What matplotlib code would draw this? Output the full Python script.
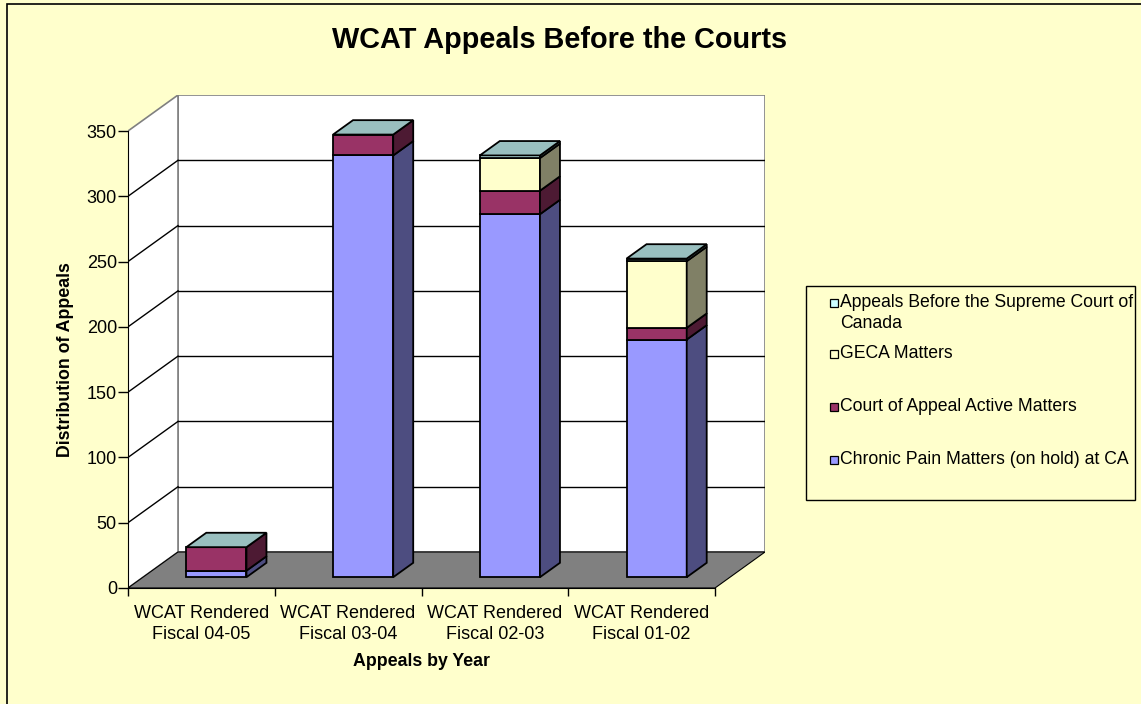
import numpy as np
import matplotlib
matplotlib.use("Agg")
import matplotlib.pyplot as plt
from matplotlib.patches import Polygon, Rectangle

plt.rcParams['font.family'] = ['Liberation Sans', 'DejaVu Sans']

categories = ['WCAT Rendered\nFiscal 04-05', 'WCAT Rendered\nFiscal 03-04',
              'WCAT Rendered\nFiscal 02-03', 'WCAT Rendered\nFiscal 01-02']
chronic_pain = [5, 323, 278, 182]
court_of_appeal = [18, 16, 18, 9]
geca = [0, 0, 25, 51]
supreme_court = [0, 0, 2, 2]

series_names = ['Chronic Pain Matters (on hold) at CA', 'Court of Appeal Active Matters',
                'GECA Matters', 'Appeals Before the Supreme Court of\nCanada']
front_colors = ['#9999FF', '#993366', '#FFFFCC', '#CCFFFF']
side_colors = ['#4D4D80', '#4D1A33', '#808066', '#668080']
top_color = '#99BFBF'
yticks = [0, 50, 100, 150, 200, 250, 300, 350]

W, H = 1141, 704
fig = plt.figure(figsize=(W / 100, H / 100), dpi=100, facecolor='#FFFFCC')

# pixel layout of the excel-like 3d plot area
x_front, y_zero, x_right, y_top = 128, 588, 765, 95
cat_px = (715 - x_front) / 4.0
val_px = (588 - 131) / 350.0

ax = fig.add_axes([x_front / W, 1 - y_zero / H, (x_right - x_front) / W, (y_zero - y_top) / H])
ax.set_xlim(0, (x_right - x_front) / cat_px)
ax.set_ylim(0, (y_zero - y_top) / val_px)
ax.set_facecolor('none')
DX = 50 / cat_px
DY = ax.get_ylim()[1] - 350
n = len(categories)
top = yticks[-1]

# walls and floor
ax.add_patch(Polygon([(DX, DY), (n + DX, DY), (n + DX, top + DY), (DX, top + DY)],
                     closed=True, facecolor='white', edgecolor='#808080', lw=1.2, zorder=1))
ax.add_patch(Polygon([(0, 0), (DX, DY), (DX, top + DY), (0, top)],
                     closed=True, facecolor='white', edgecolor='#808080', lw=1.2, zorder=1))
for v in yticks[1:-1]:
    ax.plot([DX, n + DX], [v + DY, v + DY], color='black', lw=1, zorder=2)
    ax.plot([0, DX], [v, v + DY], color='black', lw=1, zorder=2)
ax.add_patch(Polygon([(0, 0), (n, 0), (n + DX, DY), (DX, DY)],
                     closed=True, facecolor='#808080', edgecolor='black', lw=0.8, zorder=3))

# bars
bw = 0.41
a, b = 0.3 * DX, 0.3 * DY
dd_x, dd_y = 0.4 * DX, 0.4 * DY
data = np.array([chronic_pain, court_of_appeal, geca, supreme_court], dtype=float)
for i in range(n):
    x0 = i + 0.5 - bw / 2 + a
    x1 = x0 + bw
    bottom = b
    for s in range(data.shape[0]):
        h = data[s, i]
        t = bottom + h
        if h > 0:
            ax.add_patch(Polygon([(x0, bottom), (x1, bottom), (x1, t), (x0, t)], closed=True,
                                 facecolor=front_colors[s], edgecolor='black', lw=1.3, zorder=4))
            ax.add_patch(Polygon([(x1, bottom), (x1 + dd_x, bottom + dd_y), (x1 + dd_x, t + dd_y), (x1, t)],
                                 closed=True, facecolor=side_colors[s], edgecolor='black', lw=1.3, zorder=4))
        bottom = t
    ax.add_patch(Polygon([(x0, bottom), (x1, bottom), (x1 + dd_x, bottom + dd_y), (x0 + dd_x, bottom + dd_y)],
                         closed=True, facecolor=top_color, edgecolor='black', lw=1.3, zorder=5))

# axes
for side in ['top', 'right']:
    ax.spines[side].set_visible(False)
ax.spines['left'].set_bounds(0, top)
ax.spines['bottom'].set_bounds(0, n)
ax.spines['left'].set_zorder(6)
ax.spines['bottom'].set_zorder(6)
ax.set_yticks(yticks)
ax.tick_params(axis='y', length=7, width=1, labelsize=13, pad=1)
ax.set_xticks(range(n + 1))
ax.set_xticklabels([])
ax.tick_params(axis='x', length=6, width=1)
ax.set_xticks(np.arange(n) + 0.5, minor=True)
ax.set_xticklabels(categories, minor=True, fontsize=13, linespacing=1.3)
ax.tick_params(axis='x', which='minor', length=0, pad=12)

fig.text(560 / W, 1 - 40 / H, 'WCAT Appeals Before the Courts', fontsize=20.8, fontweight='bold',
         ha='center', va='center')
fig.text(65 / W, 1 - 360 / H, 'Distribution of Appeals', fontsize=12.8, fontweight='bold',
         rotation=90, ha='center', va='center')
fig.text(421 / W, 1 - 662 / H, 'Appeals by Year', fontsize=12.8, fontweight='bold',
         ha='center', va='center')

# legend
fig.patches.append(Rectangle((806 / W, 1 - 500 / H), (1135 - 806) / W, (500 - 286) / H,
                             transform=fig.transFigure, facecolor='#FFFFCC', edgecolor='black', lw=1))
legend_y = [460, 407, 354, 303]
for s in range(len(series_names)):
    yc = legend_y[s]
    fig.patches.append(Rectangle((830 / W, 1 - (yc + 4) / H), 8 / W, 8 / H, transform=fig.transFigure,
                                 facecolor=front_colors[s], edgecolor='black', lw=0.9))
    fig.text(840 / W, 1 - (yc - 9) / H, series_names[s], fontsize=12.7, ha='left', va='top',
             linespacing=1.3)

# chart border
fig.patches.append(Rectangle((7 / W, -0.01), 1.02, 1 - 4 / H + 0.01, transform=fig.transFigure,
                             facecolor='none', edgecolor='black', lw=1.2))

fig.savefig('out.png', dpi=100, facecolor=fig.get_facecolor())
